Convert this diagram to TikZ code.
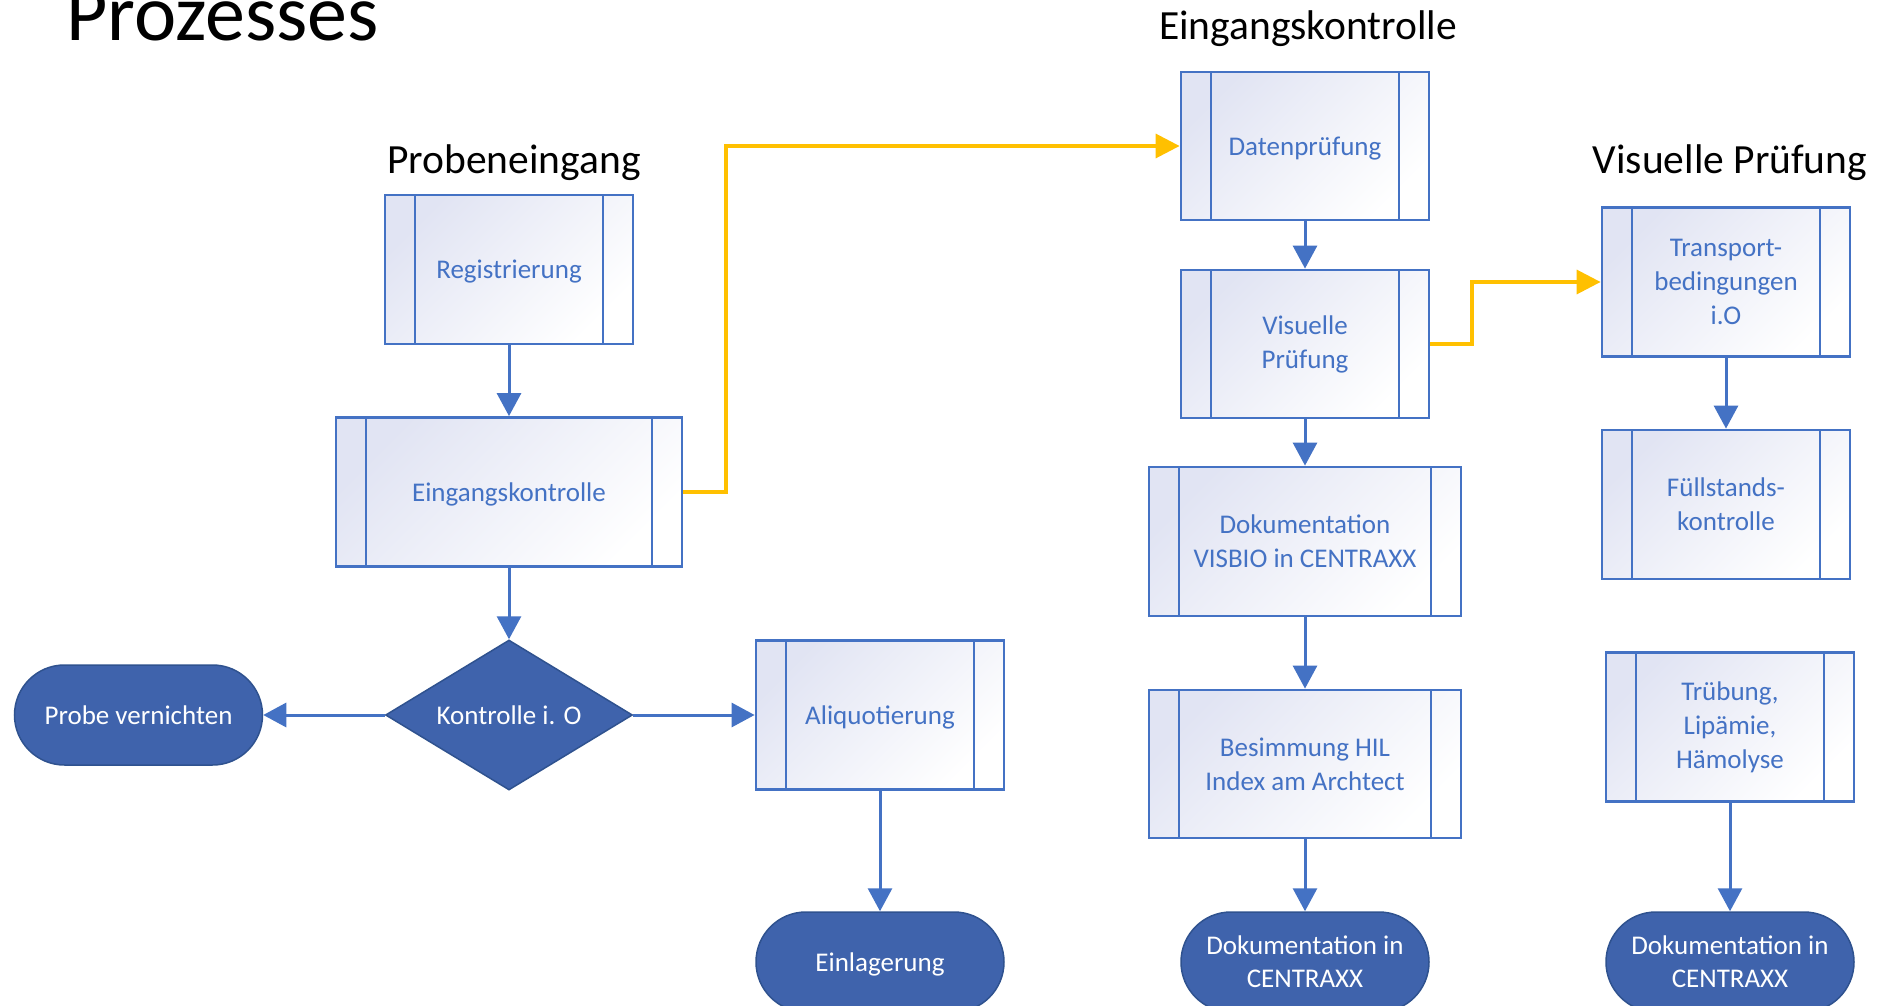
\documentclass[tikz,border=0pt]{standalone}
\usepackage{fontspec}
\setmainfont{Carlito}
\usetikzlibrary{arrows.meta,shapes.geometric}
\definecolor{boxblue}{HTML}{4472C4}
\definecolor{termblue}{HTML}{3F63AC}
\definecolor{termedge}{HTML}{2F528F}
\definecolor{lav}{HTML}{E1E4F3}
\definecolor{conyellow}{HTML}{FFC000}
\newcommand{\topstrut}{\rule{0pt}{0.952em}}
\newcommand{\botstrut}{\rule[-0.269em]{0pt}{0pt}}
\begin{document}
\begin{tikzpicture}[x=1pt,y=-1pt,
  procbox/.style={draw=boxblue, line width=2.8pt, top color=lav, bottom color=white, shading angle=45,
    minimum width=#1, minimum height=149pt, inner sep=0pt, text=boxblue,
    font=\fontsize{27}{34}\selectfont, align=center,
    path picture={\draw[boxblue,line width=2.8pt]
      ([xshift=30pt]path picture bounding box.north west) -- ([xshift=30pt]path picture bounding box.south west)
      ([xshift=-30pt]path picture bounding box.north east) -- ([xshift=-30pt]path picture bounding box.south east);}},
  terminal/.style={draw=termedge, line width=1.5pt, fill=termblue, rounded corners=50pt,
    minimum width=248pt, minimum height=100pt, inner sep=0pt, text=white,
    font=\fontsize{27}{33}\selectfont, align=center},
  oneline/.style={execute at begin node=\topstrut, execute at end node=\botstrut},
  decision/.style={diamond, aspect=1.65, draw=termedge, line width=1.5pt, fill=termblue,
    minimum width=247pt, minimum height=150pt, inner sep=0pt, text=white,
    font=\fontsize{27}{33}\selectfont},
  heading/.style={font=\fontsize{41.5}{50}\selectfont, anchor=base, inner sep=0pt},
  flow/.style={draw=boxblue, line width=3pt, -{Triangle[width=24pt,length=23pt]}},
  yflow/.style={draw=conyellow, line width=3.5pt, -{Triangle[width=24pt,length=24pt]}}
]
\useasboundingbox (0,0) rectangle (1888,1006);
\fill[white] (0,0) rectangle (1888,1006);
\clip (0,0) rectangle (1888,1006);

% headings
\node[font=\fontsize{80}{92}\selectfont, anchor=base west, inner sep=0pt] (title) at (66,41) {Prozesses};
\node[heading] (h1) at (514,173) {Probeneingang};
\node[heading] (h2) at (1308,40) {Eingangskontrolle};
\node[heading] (h3) at (1730,173) {Visuelle Prüfung};

% column 1
\node[procbox=248pt, oneline] (reg) at (509,269.5) {Registrierung};
\node[procbox=346pt, oneline] (ek) at (509,492) {Eingangskontrolle};
\node[decision] (kio) at (509,715) {Kontrolle i. O};
\node[terminal, oneline] (pv) at (138.5,715) {Probe vernichten};

% column 2
\node[procbox=248pt, oneline] (ali) at (880,715) {Aliquotierung};
\node[terminal, oneline] (einl) at (880,962) {Einlagerung};

% column 3
\node[procbox=248pt, minimum height=148pt, oneline] (dat) at (1305,146) {Datenprüfung};
\node[procbox=248pt, minimum height=148pt] (vis) at (1305,344) {Visuelle\\Prüfung};
\node[procbox=312pt] (visbio) at (1305,541.5) {Dokumentation\\VISBIO in CENTRAXX};
\node[procbox=312pt, minimum height=148pt] (hil) at (1305,764) {Besimmung HIL\\Index am Archtect};
\node[terminal] (dok1) at (1305,962) {Dokumentation in\\CENTRAXX};

% column 4
\node[procbox=248pt] (trans) at (1726,282) {Transport-\\bedingungen\\i.O};
\node[procbox=248pt] (fuell) at (1726,504.5) {Füllstands-\\kontrolle};
\node[procbox=248pt] (trueb) at (1730,727) {Trübung,\\Lipämie,\\Hämolyse};
\node[terminal] (dok2) at (1730,962) {Dokumentation in\\CENTRAXX};

% blue connectors
\draw[flow] (reg) -- (ek);
\draw[flow] (ek) -- (kio);
\draw[flow] (kio.west) -- (pv.east);
\draw[flow] (kio.east) -- (ali.west);
\draw[flow] (ali) -- (einl);
\draw[flow] (dat) -- (vis);
\draw[flow] (vis) -- (visbio);
\draw[flow] (visbio) -- (hil);
\draw[flow] (hil) -- (dok1);
\draw[flow] (trans) -- (fuell);
\draw[flow] (trueb) -- (dok2);

% yellow connectors
\coordinate (yb) at (726,300);
\coordinate (yc) at (1472,300);
\draw[yflow] (ek.east) -- (ek.east -| yb) |- (dat.west);
\draw[yflow] (vis.east) -- (vis.east -| yc) |- (trans.west);
\end{tikzpicture}
\end{document}
